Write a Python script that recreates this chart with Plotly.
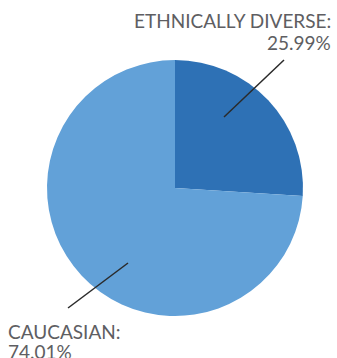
import plotly.graph_objects as go

labels = ["ETHNICALLY DIVERSE", "CAUCASIAN"]
values = [25.99, 74.01]
colors = ["#2e71b5", "#62a1d8"]

W, H = 337, 358
cx, cy, r = 175, 188, 128  # pixel geometry of the pie


def px(x):
    return x / W


def py(y):
    return 1 - y / H


fig = go.Figure(go.Pie(
    labels=labels,
    values=values,
    sort=False,
    direction="clockwise",
    rotation=0,
    marker=dict(colors=colors, line=dict(width=0)),
    textinfo="none",
    hoverinfo="label+percent",
    showlegend=False,
    domain=dict(x=[px(cx - r), px(cx + r)], y=[py(cy + r), py(cy - r)]),
))

font = dict(family="Lato, 'Open Sans', sans-serif", size=19, color="#5e5e62")


def label(text, x, y, anchor):
    fig.add_annotation(
        x=px(x), y=py(y), xref="paper", yref="paper",
        xanchor=anchor, yanchor="middle", align=anchor, showarrow=False,
        text=text, font=font,
    )


label(f"{labels[0]}:", 333, 21, "right")
label(f"{values[0]:.2f}%", 333, 42, "right")
label(f"{labels[1]}:", 6, 331, "left")
label(f"{values[1]:.2f}%", 6, 351, "left")

line = dict(color="#2a2a2a", width=1.5)
fig.add_shape(type="line", xref="paper", yref="paper",
              x0=px(284), y0=py(60), x1=px(224), y1=py(117), line=line)
fig.add_shape(type="line", xref="paper", yref="paper",
              x0=px(128), y0=py(263), x1=px(68), y1=py(308), line=line)

fig.update_layout(
    width=W, height=H,
    margin=dict(l=0, r=0, t=0, b=0),
    paper_bgcolor="white", plot_bgcolor="white",
)

fig.write_html(
    "out.html",
    config=dict(displayModeBar=False),
    post_script="document.body.style.margin='0';document.body.style.overflow='hidden';",
)
